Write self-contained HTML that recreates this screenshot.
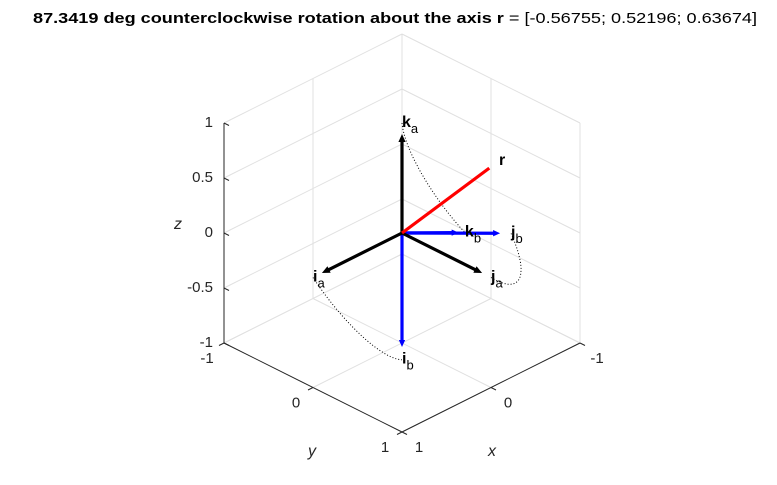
<!DOCTYPE html>
<html><head><meta charset="utf-8"><style>
html,body{margin:0;padding:0;background:#fff;}
svg{display:block;font-family:"Liberation Sans",Arial,sans-serif;}
</style></head><body>
<svg id="chart" width="777" height="485" viewBox="0 0 777 485" xmlns="http://www.w3.org/2000/svg">
<text x="395" y="23" text-anchor="middle" font-size="15" fill="#000" textLength="724" lengthAdjust="spacingAndGlyphs"><tspan font-weight="bold">87.3419 deg counterclockwise rotation about the axis r</tspan> = [-0.56755; 0.52196; 0.63674]</text>
<g id="grid"></g>
<g id="axes"></g>
<g id="marks"></g>
</svg>
<script>
const axisR = [-0.56755, 0.52196, 0.63674];
const angleDeg = 87.3419;
const zTicks = [-1, -0.5, 0, 0.5, 1];
const zTickLabels = ['-1', '-0.5', '0', '0.5', '1'];
const xyTicks = [-1, 0, 1];
const xyTickLabels = ['-1', '0', '1'];
const vecScale = 0.9;

const NS = 'http://www.w3.org/2000/svg';
const C = [402, 233], X = [-89, 44.5], Y = [89, 44.5], Z = [0, -110];
function P(v){ return [C[0]+v[0]*X[0]+v[1]*Y[0]+v[2]*Z[0], C[1]+v[0]*X[1]+v[1]*Y[1]+v[2]*Z[1]]; }
function mk(tag, attrs, parent){ const e=document.createElementNS(NS,tag); for(const k in attrs) e.setAttribute(k,attrs[k]); parent.appendChild(e); return e; }
function line(a,b,stroke,w,parent,extra){ const p=P(a),q=P(b); const e=mk('line',Object.assign({x1:p[0],y1:p[1],x2:q[0],y2:q[1],stroke:stroke,'stroke-width':w},extra||{}),parent); return e; }
function rot(v, r, th){
  const c=Math.cos(th), s=Math.sin(th), d=v[0]*r[0]+v[1]*r[1]+v[2]*r[2];
  const cr=[r[1]*v[2]-r[2]*v[1], r[2]*v[0]-r[0]*v[2], r[0]*v[1]-r[1]*v[0]];
  return [0,1,2].map(i=>v[i]*c+cr[i]*s+r[i]*d*(1-c));
}
const grid=document.getElementById('grid'), axes=document.getElementById('axes'), marks=document.getElementById('marks');
const gc='#e0e0e0';
zTicks.forEach(z=>{
  let e=line([-1,-1,z],[-1,1,z],gc,1,grid);  
  e=line([-1,-1,z],[1,-1,z],gc,1,grid);  
});
xyTicks.forEach(t=>{
  let e=line([-1,t,-1],[-1,t,1],gc,1,grid);  
  e=line([-1,t,-1],[1,t,-1],gc,1,grid);  
  e=line([t,-1,-1],[t,-1,1],gc,1,grid);  
  e=line([t,-1,-1],[t,1,-1],gc,1,grid);  
});
const ac='#262626';
let e=line([1,-1,-1],[1,-1,1],ac,1,axes);  
e=line([1,-1,-1],[1,1,-1],ac,1,axes);  
e=line([1,1,-1],[-1,1,-1],ac,1,axes);  
function txt(x,y,s,anchor,parent,name,extra){ const t=mk('text',Object.assign({x:x,y:y,'font-size':15,fill:'#262626','text-anchor':anchor,'dominant-baseline':'middle'},extra||{}),parent); t.textContent=s;   return t; }
zTicks.forEach((z,i)=>{
  const p=P([1,-1,z]);
  mk('line',{x1:p[0],y1:p[1],x2:p[0]+5,y2:p[1]+2.5,stroke:ac,'stroke-width':1},axes);
  txt(p[0]-11,p[1],zTickLabels[i],'end',axes,'z-tick-label');
});
xyTicks.forEach((t,i)=>{
  let p=P([1,t,-1]);
  mk('line',{x1:p[0],y1:p[1],x2:p[0]-5,y2:p[1]+2.5,stroke:ac,'stroke-width':1},axes);
  txt(p[0]-17,p[1]+16,xyTickLabels[i],'middle',axes,'y-tick-label');
  p=P([t,1,-1]);
  mk('line',{x1:p[0],y1:p[1],x2:p[0]+5,y2:p[1]+2.5,stroke:ac,'stroke-width':1},axes);
  txt(p[0]+17,p[1]+16,xyTickLabels[i],'middle',axes,'x-tick-label');
});
txt(178,225,'z','middle',axes,'z-axis-title',{'font-style':'italic','font-size':16});
txt(312,452,'y','middle',axes,'y-axis-title',{'font-style':'italic','font-size':16});
txt(492,452,'x','middle',axes,'x-axis-title',{'font-style':'italic','font-size':16});

const th=angleDeg*Math.PI/180;
const basis=[[1,0,0],[0,1,0],[0,0,1]], names=['i','j','k'];
function arrow(v,color,name,head){
  const o=P([0,0,0]), q=P(v.map(a=>a*vecScale));
  const g=mk('g',{},marks);  
  const dx=q[0]-o[0], dy=q[1]-o[1], L=Math.hypot(dx,dy)||1, ux=dx/L, uy=dy/L;
  mk('line',{x1:o[0],y1:o[1],x2:q[0]-ux*head*0.6,y2:q[1]-uy*head*0.6,stroke:color,'stroke-width':3.2},g);
  if(head>0){ const bx=q[0]-ux*head, by=q[1]-uy*head;
    mk('polygon',{points:`${q[0]},${q[1]} ${bx-uy*head*0.45},${by+ux*head*0.45} ${bx+uy*head*0.45},${by-ux*head*0.45}`,fill:color},g); }
}
function label(v,base,sub,name){
  const p=P(v);
  const t=mk('text',{x:p[0],y:p[1],'font-size':16,fill:'#000','dominant-baseline':'middle'},marks);
   
  const a=mk('tspan',{'font-weight':'bold'},t); a.textContent=base;
  if(sub){ const b=mk('tspan',{dy:7,'font-size':13},t); b.textContent=sub; }
}
basis.forEach((b,i)=>{
  const pts=[]; for(let k=0;k<=40;k++){ const p=P(rot(b,axisR,th*k/40)); pts.push(p[0].toFixed(1)+','+p[1].toFixed(1)); }
  const pl=mk('polyline',{points:pts.join(' '),fill:'none',stroke:'#000','stroke-width':1,'stroke-dasharray':'1 2'},marks);
   
});
basis.forEach((b,i)=>arrow(rot(b,axisR,th),'#0000ff','vector-'+names[i]+'-b',7));
basis.forEach((b,i)=>arrow(b,'#000','vector-'+names[i]+'-a',8));
arrow(axisR,'#ff0000','axis-r',0);
basis.forEach((b,i)=>{ label(b,names[i],'a','label-'+names[i]+'-a'); label(rot(b,axisR,th),names[i],'b','label-'+names[i]+'-b'); });
label(axisR,'r','','label-r');
</script>
</body></html>
